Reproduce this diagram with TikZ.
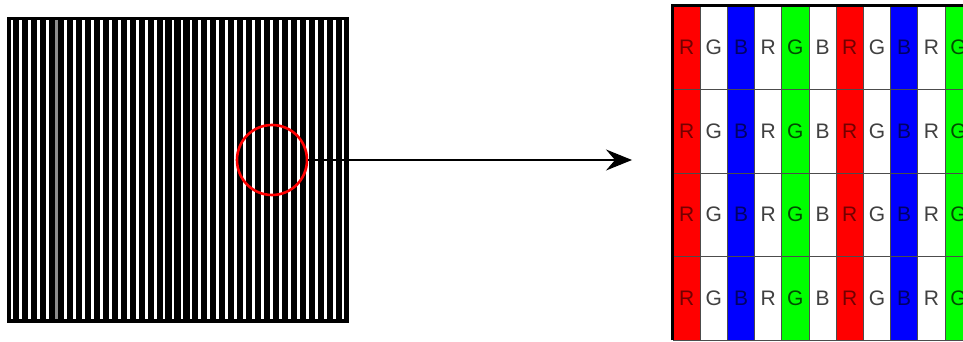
\documentclass[tikz,border=0pt]{standalone}
\usepackage{fontspec}
\setmainfont{Liberation Sans}
\usetikzlibrary{arrows.meta,positioning}

\definecolor{pxred}{RGB}{255,0,0}
\definecolor{pxgreen}{RGB}{0,255,0}
\definecolor{pxblue}{RGB}{0,0,255}

\tikzset{
  slit/.style={fill=white,draw=none},
  lensring/.style={circle,draw=pxred,line width=2.6pt,minimum size=70pt,inner sep=0pt},
  subpix/.style={draw=black!70,line width=0.8pt,minimum width=27.2pt,minimum height=83.5pt,
    inner sep=0pt,font=\fontsize{21}{21}\selectfont},
}

\begin{document}
\begin{tikzpicture}[x=1pt,y=-1pt]
\useasboundingbox (0,0) rectangle (963,342);

% screen seen from afar
\fill[black] (7,17) rectangle (349,323);
\foreach \i in {0,...,37}
  \fill[slit] ({10.5+8.95*\i},20.5) rectangle ++(2.8,298);
\fill[black!45] ({10.5+8.95*5},20.5) rectangle ++(2.8,298);

\node[lensring] (lens) at (272,160) {};
\coordinate (tip) at (632,160);
\draw[line width=1.2pt,-{Stealth[length=26pt,width=21pt,inset=9pt]}] (lens.east) -- (tip);

% magnified subpixels
\begin{scope}
\clip (0,0) rectangle (963,342);
\foreach \fillc/\lbl/\txtc [count=\col from 0] in {
    pxred/R/red!45!black, white/G/black!75, pxblue/B/blue!40!black,
    white/R/black!75, pxgreen/G/green!30!black, white/B/black!75,
    pxred/R/red!45!black, white/G/black!75, pxblue/B/blue!40!black,
    white/R/black!75, pxgreen/G/green!30!black}
  \foreach \row in {0,...,3}
    \node[subpix,fill=\fillc,text=\txtc] (cell-\row-\col)
      at ({686.6+27.2*\col},{47.75+83.5*\row}) {\lbl};
\draw[line width=2.5pt] (cell-3-0.south west) -- (cell-0-0.north west) -- (cell-0-10.north east);
\end{scope}
\end{tikzpicture}
\end{document}
